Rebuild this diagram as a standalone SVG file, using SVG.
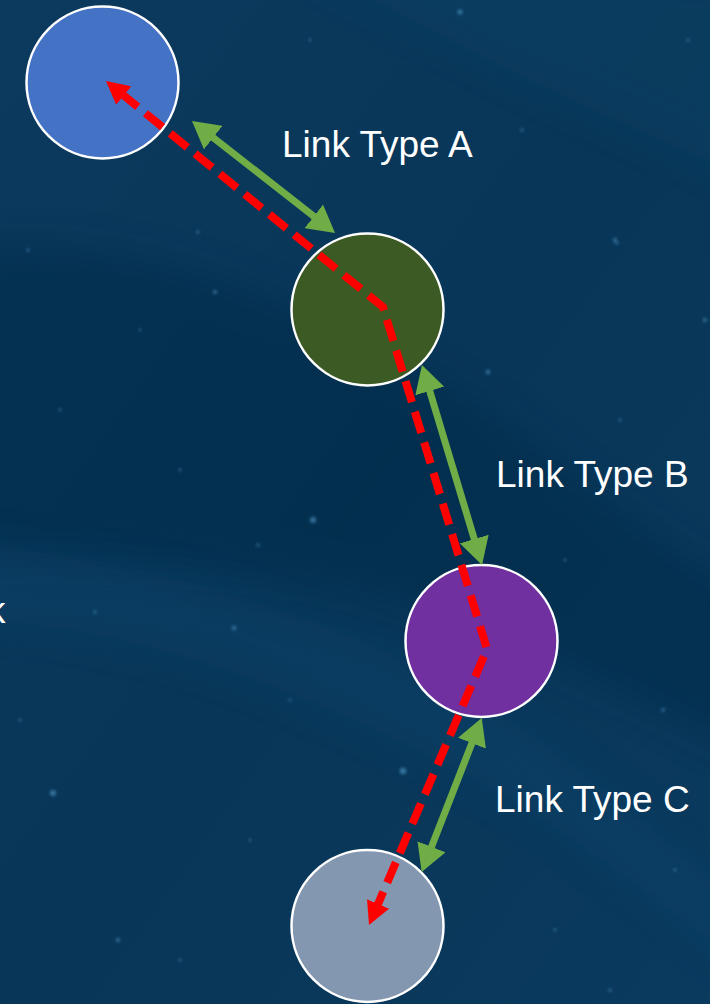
<svg xmlns="http://www.w3.org/2000/svg" width="710" height="1004" viewBox="0 0 710 1004">
<style>
.node{stroke:#FFFFFF;stroke-width:2.5}
.lbl{font-family:"Liberation Sans",Arial,sans-serif;font-size:37px;fill:#FFFFFF}
.green{fill:none;stroke:#70AD47;stroke-width:7}
.red{fill:none;stroke:#FF0000;stroke-width:8;stroke-dasharray:22 10;stroke-linejoin:miter}
.star{fill:#5FA8D8}
</style>
<defs>
<linearGradient id="bg" x1="0" y1="0" x2="1" y2="1">
<stop offset="0" stop-color="#0B3A5E"/>
<stop offset="0.5" stop-color="#083658"/>
<stop offset="1" stop-color="#0A3A5E"/>
</linearGradient>
<filter id="blur" x="-20%" y="-20%" width="140%" height="140%"><feGaussianBlur stdDeviation="18"/></filter>
<filter id="glow" x="-200%" y="-200%" width="500%" height="500%"><feGaussianBlur stdDeviation="1.5"/></filter>
<marker id="gHead" markerUnits="userSpaceOnUse" markerWidth="30" markerHeight="30" refX="6" refY="15" orient="auto-start-reverse" viewBox="0 0 30 30">
<path d="M0,0 L27,15 L0,30 z" fill="#70AD47"/>
</marker>
<marker id="rHead" markerUnits="userSpaceOnUse" markerWidth="24" markerHeight="24" refX="4" refY="12" orient="auto-start-reverse" viewBox="0 0 24 24">
<path d="M0,0 L23,12 L0,24 z" fill="#FF0000"/>
</marker>
</defs>
<g id="background">
<rect x="0" y="0" width="710" height="1004" fill="url(#bg)"/>
<path d="M-40,250 C120,230 320,300 500,420 C600,490 680,560 760,600 L760,760 C640,700 520,640 400,600 C260,560 100,560 -40,560 Z" fill="#05294A" opacity="0.55" filter="url(#blur)"/>
<path d="M-40,540 C120,560 300,600 460,690 C580,760 680,860 760,920 L760,980 C660,900 560,820 440,760 C300,690 120,620 -40,620 Z" fill="#0E4670" opacity="0.35" filter="url(#blur)"/>
<path d="M300,-40 C450,40 600,120 760,180 L760,-40 Z" fill="#0F4469" opacity="0.4" filter="url(#blur)"/>
<g filter="url(#glow)" opacity="0.55">
<circle class="star" cx="460" cy="12" r="2.5"/>
<circle class="star" cx="158" cy="115" r="2.2"/>
<circle class="star" cx="215" cy="292" r="2"/>
<circle class="star" cx="198" cy="232" r="1.5"/>
<circle class="star" cx="615" cy="240" r="2"/>
<circle class="star" cx="705" cy="320" r="2"/>
<circle class="star" cx="488" cy="372" r="2.2"/>
<circle class="star" cx="313" cy="520" r="3"/>
<circle class="star" cx="258" cy="545" r="1.6"/>
<circle class="star" cx="234" cy="628" r="2.2"/>
<circle class="star" cx="403" cy="771" r="3.2"/>
<circle class="star" cx="53" cy="793" r="3"/>
<circle class="star" cx="118" cy="940" r="2"/>
<circle class="star" cx="95" cy="612" r="1.6"/>
<circle class="star" cx="663" cy="710" r="1.8"/>
<circle class="star" cx="617" cy="243" r="1.5"/>
<circle class="star" cx="28" cy="250" r="1.5"/>
<circle class="star" cx="522" cy="130" r="1.5"/>
<circle class="star" cx="688" cy="40" r="1.5"/>
<circle class="star" cx="310" cy="40" r="1.3"/>
<circle class="star" cx="60" cy="410" r="1.4"/>
<circle class="star" cx="180" cy="470" r="1.4"/>
<circle class="star" cx="620" cy="420" r="1.4"/>
<circle class="star" cx="675" cy="870" r="1.4"/>
<circle class="star" cx="555" cy="930" r="1.4"/>
<circle class="star" cx="180" cy="960" r="1.3"/>
<circle class="star" cx="20" cy="720" r="1.3"/>
<circle class="star" cx="290" cy="700" r="1.3"/>
<circle class="star" cx="140" cy="330" r="1.3"/>
<circle class="star" cx="420" cy="290" r="1.3"/>
<circle class="star" cx="565" cy="560" r="1.3"/>
<circle class="star" cx="250" cy="840" r="1.3"/>
<circle class="star" cx="610" cy="990" r="1.5"/>
</g>
</g>
<g id="node-blue"><circle class="node" cx="102.5" cy="82.5" r="76" fill="#4472C4"/></g>
<g id="node-green"><circle class="node" cx="367.5" cy="309.5" r="76" fill="#3C5A24"/></g>
<g id="node-purple"><circle class="node" cx="481.5" cy="641" r="76" fill="#7030A0"/></g>
<g id="node-gray"><circle class="node" cx="367.5" cy="926" r="76" fill="#8497B0"/></g>
<g id="connectors">
<path id="link-a" class="green" d="M208.5,133.9 L318.5,220.1" marker-start="url(#gHead)" marker-end="url(#gHead)"/>
<path id="link-b" class="green" d="M428,385.2 L476,544.8" marker-start="url(#gHead)" marker-end="url(#gHead)"/>
<path id="link-c" class="green" d="M474.1,737.6 L429.3,852.4" marker-start="url(#gHead)" marker-end="url(#gHead)"/>
<path id="route" class="red" d="M120.7,93 L383,307 L487,649 L376.5,907.6" marker-start="url(#rHead)" marker-end="url(#rHead)"/>
</g>
<g id="labels">
<text class="lbl" x="282" y="157">Link Type A</text>
<text class="lbl" x="496" y="487">Link Type B</text>
<text class="lbl" x="495" y="812">Link Type C</text>
<text class="lbl" x="-13" y="623">k</text>
</g>
</svg>
